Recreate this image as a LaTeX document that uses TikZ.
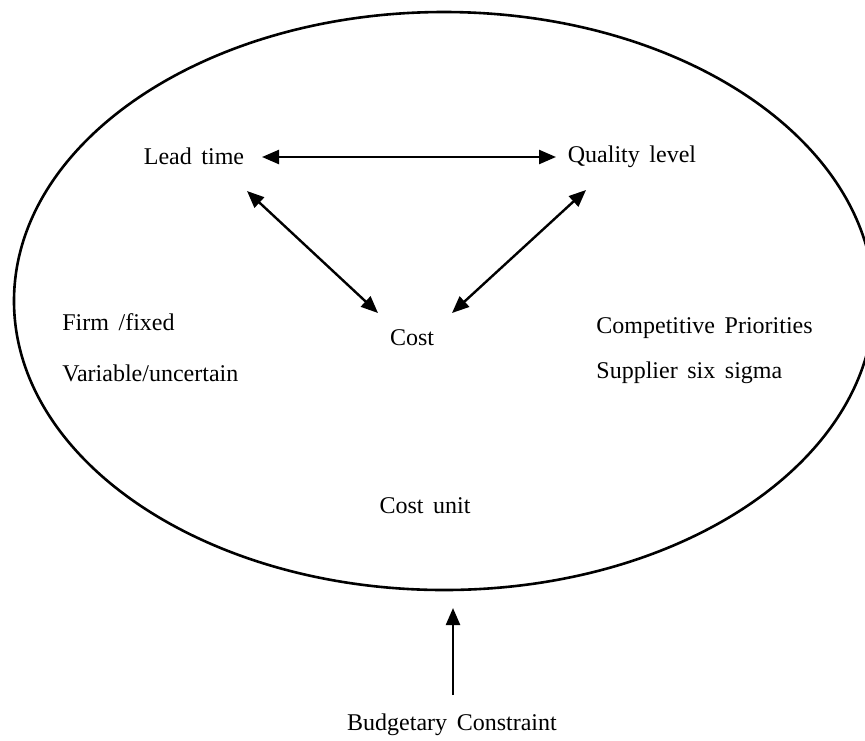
\documentclass[tikz,border=0pt]{standalone}
\usepackage{fontspec}
\setmainfont{Liberation Serif}
\usetikzlibrary{arrows.meta,calc}

% label type: 12pt serif with slightly wider word gaps
\newcommand{\lblfont}{\fontsize{12}{14}\selectfont\spaceskip=0.4em\relax}

\tikzset{
  lbl/.style={font=\lblfont, inner sep=1pt},
  link/.style={line width=1.2pt, {Triangle[length=8.5pt,width=7pt]}-{Triangle[length=8.5pt,width=7pt]}},
  push/.style={line width=1.2pt, -{Triangle[length=8.5pt,width=7pt]}},
}

\begin{document}
\begin{tikzpicture}[x=0.5pt,y=-0.5pt]
  % canvas
  \useasboundingbox (0,0) rectangle (865,740);

  % outer boundary ellipse (runs off the right edge)
  \begin{scope}
    \clip (0,0) rectangle (865,740);
    \draw[line width=1.3pt] (444,301) ellipse [x radius=430, y radius=289];
  \end{scope}

  % the three priorities
  \node[lbl] (lead) at (194,156) {Lead time};
  \node[lbl] (qual) at (632,157) {Quality level};
  \node[lbl] (cost) at (412,338) {Cost};

  % side notes
  \node[lbl, anchor=west] (firm) at (60,322) {Firm /fixed};
  \node[lbl, anchor=west] (var)  at (60,373) {Variable/uncertain};
  \node[lbl, anchor=west] (comp) at (594,328) {Competitive Priorities};
  \node[lbl, anchor=west] (supp) at (594,373) {Supplier six sigma};

  \node[lbl] (unit)   at (425,506) {Cost unit};
  \node[lbl] (budget) at (452,725) {Budgetary Constraint};

  % trade-off arrows
  \draw[link] ($(lead)+(68,1)$) -- ($(qual)+(-76,0)$);
  \draw[link] ($(lead)+(53,35)$) -- ($(cost)+(-34,-25)$);
  \draw[link] ($(qual)+(-46,33)$) -- ($(cost)+(40,-25)$);

  % external constraint
  \draw[push] ($(budget)+(1,-30)$) -- ($(budget)+(1,-117)$);
\end{tikzpicture}
\end{document}
